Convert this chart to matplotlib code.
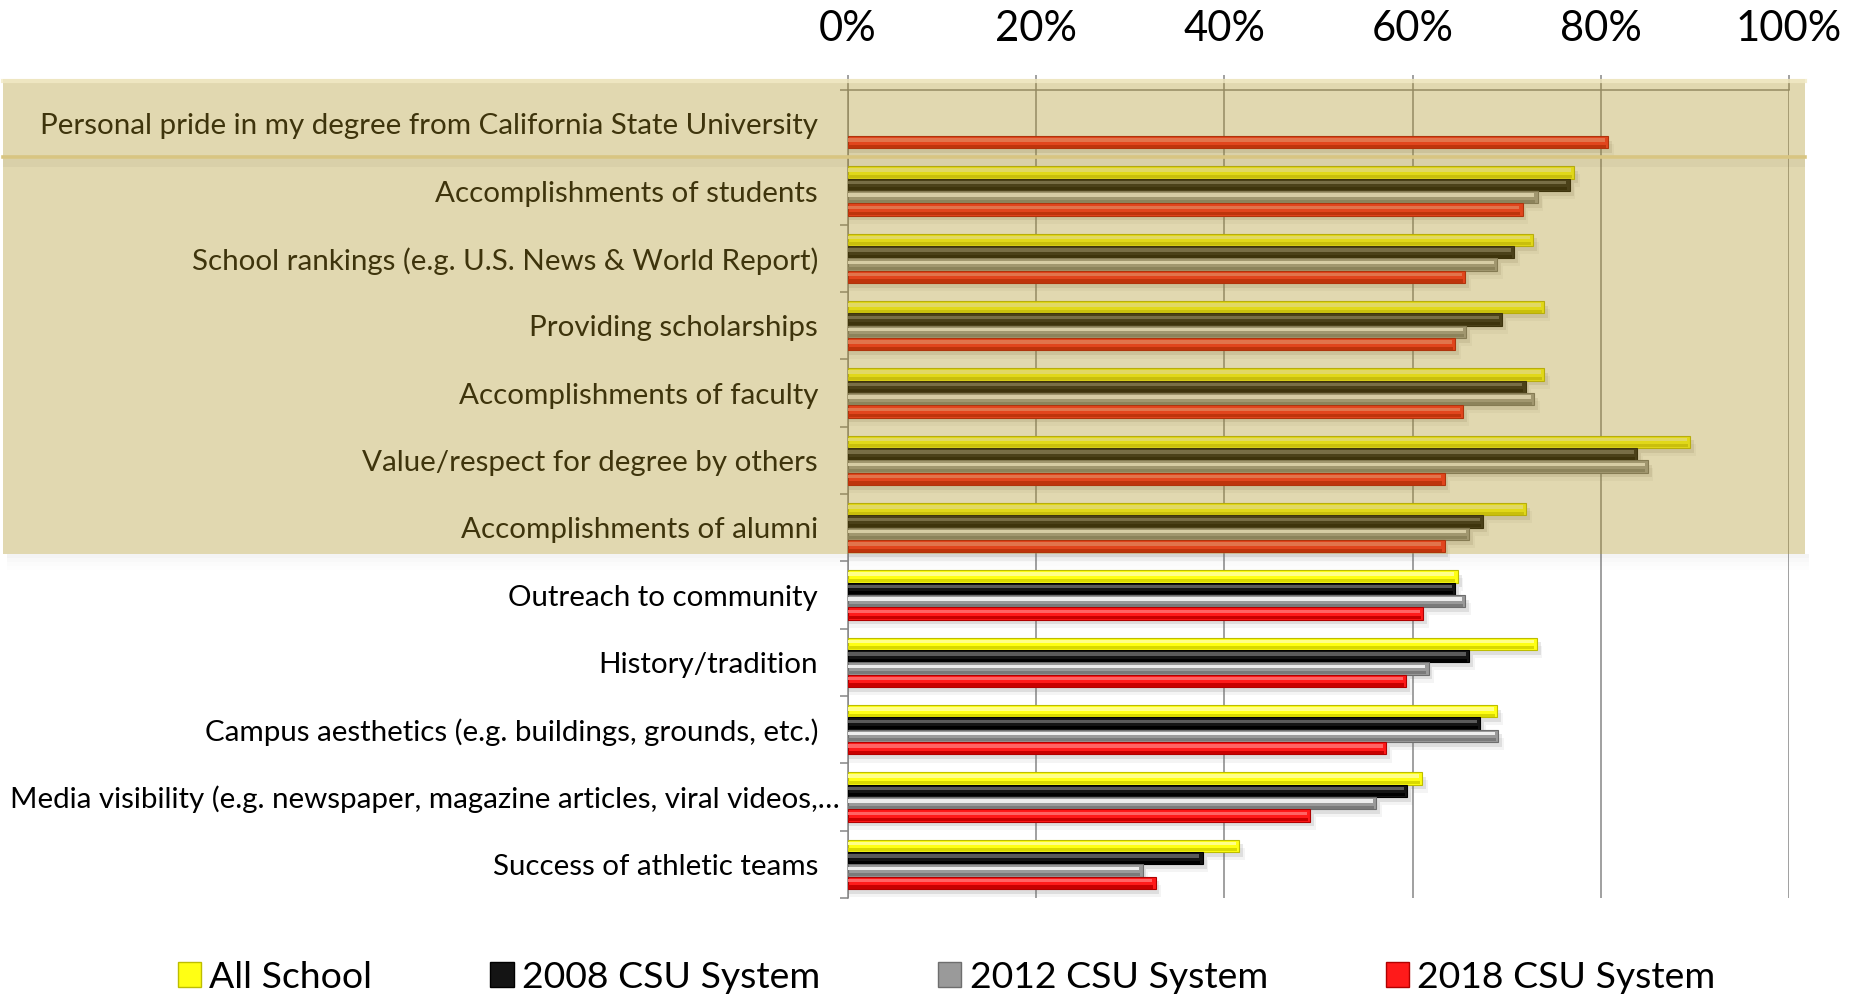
import matplotlib
matplotlib.use("Agg")
import matplotlib.pyplot as plt
import numpy as np
from matplotlib.patches import Rectangle, Patch
from matplotlib.lines import Line2D
from matplotlib.transforms import blended_transform_factory, ScaledTranslation

plt.rcParams['font.family'] = ['Lato', 'DejaVu Sans']

# ---------------- data ----------------
categories = [
    "Personal pride in my degree from California State University",
    "Accomplishments of students",
    "School rankings (e.g. U.S. News & World Report)",
    "Providing scholarships",
    "Accomplishments of faculty",
    "Value/respect for degree by others",
    "Accomplishments of alumni",
    "Outreach to community",
    "History/tradition",
    "Campus aesthetics (e.g. buildings, grounds, etc.)",
    "Media visibility (e.g. newspaper, magazine articles, viral videos,\u2026",
    "Success of athletic teams",
]
all_school = [np.nan, 77.2, 72.8, 74.0, 74.0, 89.5, 72.1, 64.8, 73.2, 69.0, 61.0, 41.6]
csu_2008 = [np.nan, 76.7, 70.8, 69.5, 72.0, 83.9, 67.5, 64.5, 66.0, 67.2, 59.4, 37.7]
csu_2012 = [np.nan, 73.3, 69.0, 65.7, 72.9, 85.0, 66.0, 65.6, 61.7, 69.1, 56.1, 31.3]
csu_2018 = [80.8, 71.7, 65.6, 64.5, 65.4, 63.4, 63.4, 61.1, 59.3, 57.2, 49.1, 32.7]
series_names = ["All School", "2008 CSU System", "2012 CSU System", "2018 CSU System"]
x_ticks = [0, 20, 40, 60, 80, 100]
x_tick_labels = ["0%", "20%", "40%", "60%", "80%", "100%"]
n_highlight = 7  # first rows shaded

# ---------------- styles ----------------
styles = [
    # face, edge, highlight, dark bottom
    dict(face="#FFFF14", edge="#BDBD00", hi="#FFFF8A", dark="#D9D900"),
    dict(face="#141414", edge="#000000", hi="#5A5A5A", dark="#000000"),
    dict(face="#9A9A9A", edge="#6E6E6E", hi="#EDEDED", dark="#7A7A7A"),
    dict(face="#FF1A1A", edge="#B00000", hi="#FF6464", dark="#C80000"),
]
offsets = [-0.276, -0.092, 0.092, 0.276]
bar_h = 0.184
grid_col = "#868686"

W, H, DPI = 18.6, 9.97, 100
fig = plt.figure(figsize=(W, H), dpi=DPI)
ax = fig.add_axes([848 / 1860, 1 - 898 / 997, (1789 - 848) / 1860, (898 - 90) / 997])

renderer = fig.canvas.get_renderer()


def fit_size(text, target_px, base=20):
    t = fig.text(0, 0, text, fontsize=base)
    w = t.get_window_extent(renderer).width
    t.remove()
    return base * target_px / w


label_size = fit_size(categories[0], 779)
tick_size = fit_size("100%", 106)
legend_size = fit_size("2018 CSU System", 298)

y = np.arange(len(categories))
all_series = [all_school, csu_2008, csu_2012, csu_2018]
for vals, off, st in zip(all_series, offsets, styles):
    v = np.array(vals, dtype=float)
    m = ~np.isnan(v)
    yy = y[m] + off
    vv = v[m]
    # soft shadow
    ax.barh(yy + 0.07, vv + 0.4, height=bar_h, color="0.45", alpha=0.16, lw=0, zorder=2)
    ax.barh(yy + 0.12, vv + 0.6, height=bar_h, color="0.45", alpha=0.08, lw=0, zorder=2)
    # main bar
    ax.barh(yy, vv, height=bar_h, color=st["face"], edgecolor=st["edge"], lw=0.8, zorder=3)
    # bevel: dark lower stripe & light upper stripe
    ax.barh(yy + bar_h * 0.33, vv - 0.25, height=bar_h * 0.25, color=st["dark"], lw=0, zorder=4)
    ax.barh(yy - bar_h * 0.18, vv - 0.35, height=bar_h * 0.28, color=st["hi"], lw=0, zorder=4)

ax.set_xlim(0, 100)
ax.set_ylim(len(categories) - 0.5, -0.5)

# x axis on top
ax.xaxis.tick_top()
ax.set_xticks(x_ticks)
ax.set_xticklabels(x_tick_labels)
ax.tick_params(axis="x", which="major", length=11, width=1.1, color=grid_col,
               pad=19.5, labelsize=tick_size, labelcolor="black")
ax.grid(axis="x", color=grid_col, lw=1.1, zorder=0)
ax.set_axisbelow(True)

# y axis
ax.set_yticks(y)
ax.set_yticklabels(categories)
ax.set_yticks(np.arange(-0.5, len(categories), 1), minor=True)
ax.tick_params(axis="y", which="major", length=0, pad=21.6, labelsize=label_size, labelcolor="black")
ax.tick_params(axis="y", which="minor", length=6, width=1.1, color=grid_col)

# the long "Media visibility" label overhangs the right alignment a little (as in the source)
media_tick = ax.yaxis.get_major_ticks()[10]
media_tick.label1.set_transform(media_tick.label1.get_transform()
                                + ScaledTranslation(22 / DPI, 0, fig.dpi_scale_trans))

for s in ["right", "bottom"]:
    ax.spines[s].set_visible(False)
for s in ["left", "top"]:
    ax.spines[s].set_color(grid_col)
    ax.spines[s].set_linewidth(1.1)

# ---------------- highlight overlay ----------------
bt = blended_transform_factory(fig.transFigure, ax.transData)
x0, x1 = 3 / 1860, 1805 / 1860
y_top = -0.5 - 11 / 67.3
y_bot = n_highlight - 0.5 - 7 / 67.3
overlay = Rectangle((x0, y_top), x1 - x0, y_bot - y_top, transform=bt,
                    facecolor="#AE9324", alpha=0.36, lw=0, zorder=10)
fig.add_artist(overlay)
# lighter top rim
fig.add_artist(Line2D([x0, x1], [y_top + 0.03, y_top + 0.03], transform=bt,
                      color="#F2EAC6", lw=3, alpha=0.8, zorder=11))
# divider between first row and rest
fig.add_artist(Line2D([x0, x1], [0.5, 0.5], transform=bt,
                      color="#D8C582", lw=2.6, zorder=11))
fig.add_artist(Rectangle((x0, 0.52), x1 - x0, 0.12, transform=bt,
                         facecolor="#7A7050", alpha=0.07, lw=0, zorder=11))
# soft shadow under overlay
for k, a in enumerate([0.07, 0.045, 0.025, 0.012]):
    fig.add_artist(Rectangle((x0 + 0.002, y_bot + k * 0.06), x1 - x0, 0.06, transform=bt,
                             facecolor="0.4", alpha=a, lw=0, zorder=9))

# ---------------- legend ----------------
handles = [Patch(facecolor=st["face"], edgecolor=st["edge"], lw=1.0) for st in styles]
leg_px = legend_size * DPI / 72
fig.legend(handles, series_names, loc="center", bbox_to_anchor=(0.509, 0.020), ncol=4,
           frameon=False, fontsize=legend_size, handlelength=0.62, handleheight=0.62,
           handletextpad=0.22, columnspacing=118 / leg_px, borderaxespad=0, borderpad=0)

fig.savefig("out.png", dpi=DPI)
